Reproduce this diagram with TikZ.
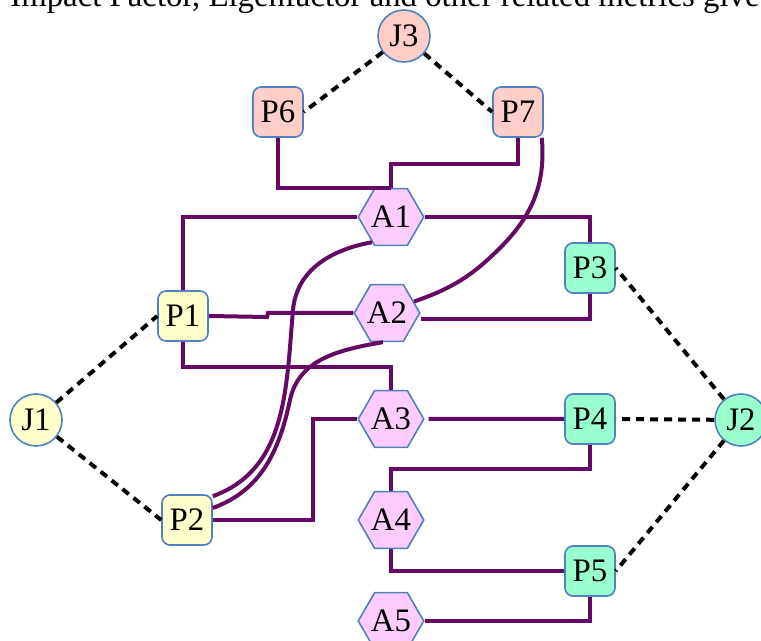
\documentclass[tikz,border=0pt]{standalone}
\usepackage{fontspec}
\setmainfont{Liberation Serif}
\usetikzlibrary{shapes.geometric}
\definecolor{jnlpink}{RGB}{255,206,200}
\definecolor{authpink}{RGB}{255,204,255}
\definecolor{papyellow}{RGB}{255,255,204}
\definecolor{papmint}{RGB}{153,255,204}
\definecolor{nodeblue}{RGB}{79,129,189}
\definecolor{linkpurple}{RGB}{100,10,100}
\tikzset{
  lbl/.style={font=\fontsize{16.4pt}{18pt}\selectfont, text=black, inner sep=0pt},
  journal/.style={lbl, circle, draw=nodeblue, line width=0.8pt, minimum size=26pt},
  paper/.style={lbl, rectangle, rounded corners=4pt, draw=nodeblue, line width=0.8pt, minimum size=25pt},
  author/.style={lbl, regular polygon, regular polygon sides=6, draw=nodeblue, line width=0.8pt, fill=authpink, minimum size=27.5pt},
  cites/.style={line width=2pt, draw=linkpurple},
  pub/.style={line width=2pt, dash pattern=on 4pt off 3pt, draw=black}
}

\begin{document}
\begin{tikzpicture}[x=0.5pt,y=-0.5pt]
  \useasboundingbox (0,0) rectangle (761,641);

  \node [lbl, anchor=base west] (head) at (10,7) {Impact Factor, Eigenfactor and other related metrics give t};

  \node [journal, fill=jnlpink] (J3) at (404,36) {J3};
  \node [journal, fill=papyellow] (J1) at (36,420) {J1};
  \node [journal, fill=papmint] (J2) at (741,420) {J2};

  \node [paper, fill=jnlpink] (P6) at (278,112) {P6};
  \node [paper, fill=jnlpink] (P7) at (518,112) {P7};
  \node [paper, fill=papyellow] (P1) at (183,316) {P1};
  \node [paper, fill=papyellow] (P2) at (187,520) {P2};
  \node [paper, fill=papmint] (P3) at (590,268) {P3};
  \node [paper, fill=papmint] (P4) at (590,419) {P4};
  \node [paper, fill=papmint] (P5) at (590,571) {P5};

  \node [author] (A1) at (391,217) {A1};
  \node [author] (A2) at (387,313) {A2};
  \node [author] (A3) at (391,419) {A3};
  \node [author] (A4) at (391,520) {A4};
  \node [author] (A5) at (391,621) {A5};

  % journals and their papers
  \draw [pub] (J3) -- (P6.east);
  \draw [pub] (J3) -- (P7.west);
  \draw [pub] (J1) -- (P1.west);
  \draw [pub] (J1) -- (P2.west);
  \draw [pub] (J2) -- (P3.east);
  \draw [pub] (J2) -- (P4.east);
  \draw [pub] (J2) -- (P5.east);

  % authors and papers
  \draw [cites] (P6.south) |- (A1.north);
  \draw [cites] (P7.south) -- (P7.south |- 0,164) -| (A1.north);
  \draw [cites] (A1.west) -| (P1.north);
  \draw [cites] (A1.east) -| (P3.north);
  \draw [cites] (P1.east) -- (267,317) -- (268,313) -- (A2.west);
  \draw [cites] (P1.south) -- (P1.south |- 0,367) -| (A3.north);
  \draw [cites] ([yshift=-3pt]A2.east) -| (P3.south);
  \draw [cites] (P2.east) -- (P2.east -| 313,0) |- (A3.west);
  \draw [cites, shorten <=2pt] (A3.east) -- (P4.west);
  \draw [cites] (P4.south) -- (P4.south |- 0,469) -| (A4.north);
  \draw [cites] (A4.south) |- (P5.west);
  \draw [cites] (P5.south) |- (A5.east);
  \draw [cites] (A1.233) to[out=190,in=85] (293,310) to[out=265,in=20] ([yshift=-1pt]P2.north east);
  \draw [cites] (A2.262) to[out=190,in=78] (290,400) to[out=258,in=20] ([yshift=6pt]P2.east);
  \draw [cites] ([xshift=-1pt]P7.south east) to[out=-85,in=45] (500,248) to[out=225,in=19] (A2.23);

\end{tikzpicture}
\end{document}
